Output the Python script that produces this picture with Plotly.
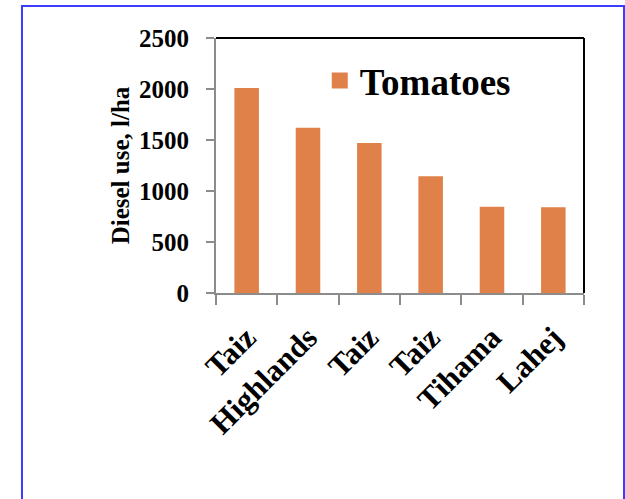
import plotly.graph_objects as go

# Diesel use for tomato production by region
regions = ["Taiz", "Highlands", "Taiz", "Taiz", "Tihama", "Lahej"]
diesel_use = [2010, 1620, 1470, 1145, 845, 840]
series_name = "Tomatoes"
y_ticks = [0, 500, 1000, 1500, 2000, 2500]

BAR_COLOR = "#DF8149"
AXIS_GRAY = "#8C8C8C"
SERIF = "Liberation Serif, Times New Roman, serif"

positions = list(range(len(regions)))
boundaries = [p - 0.5 for p in positions] + [positions[-1] + 0.5]

fig = go.Figure()
fig.add_trace(go.Bar(
    x=positions,
    y=diesel_use,
    name=series_name,
    marker=dict(color=BAR_COLOR, line=dict(width=0)),
    showlegend=False,
))
# legend entry with a larger square swatch
fig.add_trace(go.Scatter(
    x=[None], y=[None],
    mode="markers",
    name=series_name,
    marker=dict(symbol="square", size=19, color=BAR_COLOR),
    showlegend=True,
))

fig.update_layout(
    width=625,
    height=499,
    margin=dict(l=216, r=41, t=38, b=206),
    paper_bgcolor="white",
    plot_bgcolor="white",
    bargap=0.6,
    font=dict(family=SERIF, color="black"),
    legend=dict(
        x=0.282, xanchor="left",
        y=0.832, yanchor="middle",
        bgcolor="rgba(0,0,0,0)",
        font=dict(family=SERIF, size=37, weight="bold", color="black"),
        itemsizing="trace",
    ),
    xaxis=dict(
        range=[-0.5, len(regions) - 0.5],
        tickmode="array",
        tickvals=positions,
        ticktext=regions,
        ticks="",
        tickangle=-45,
        ticklabelstandoff=12,
        tickfont=dict(family=SERIF, size=31, weight="bold", color="black"),
        showline=True, linecolor=AXIS_GRAY, linewidth=2,
        showgrid=False, zeroline=False,
        minor=dict(tickmode="array", tickvals=boundaries, ticks="outside",
                   ticklen=10, tickwidth=1.5, tickcolor=AXIS_GRAY, showgrid=False),
    ),
    yaxis=dict(
        range=[0, 2500],
        tickmode="array",
        tickvals=y_ticks,
        ticks="outside", ticklen=8, tickwidth=1.5, tickcolor=AXIS_GRAY,
        ticklabelstandoff=12,
        tickfont=dict(family=SERIF, size=25, weight="bold", color="black"),
        showline=True, linecolor=AXIS_GRAY, linewidth=2,
        showgrid=False, zeroline=False,
        title=dict(text="Diesel use, l/ha", standoff=2,
                   font=dict(family=SERIF, size=25, weight="bold", color="black")),
    ),
    shapes=[
        # black frame on the top and right of the plot area
        dict(type="line", xref="paper", yref="paper", x0=0, x1=1, y0=1, y1=1,
             line=dict(color="black", width=2)),
        dict(type="line", xref="paper", yref="paper", x0=1, x1=1, y0=0, y1=1,
             line=dict(color="black", width=2)),
        # blue outer border
        dict(type="rect", xref="paper", yref="paper",
             x0=-0.5272, x1=1.1087, y0=-0.86, y1=1.1255,
             line=dict(color="#3C3CFF", width=2), fillcolor="rgba(0,0,0,0)"),
    ],
)

fig.write_html("out.html")
